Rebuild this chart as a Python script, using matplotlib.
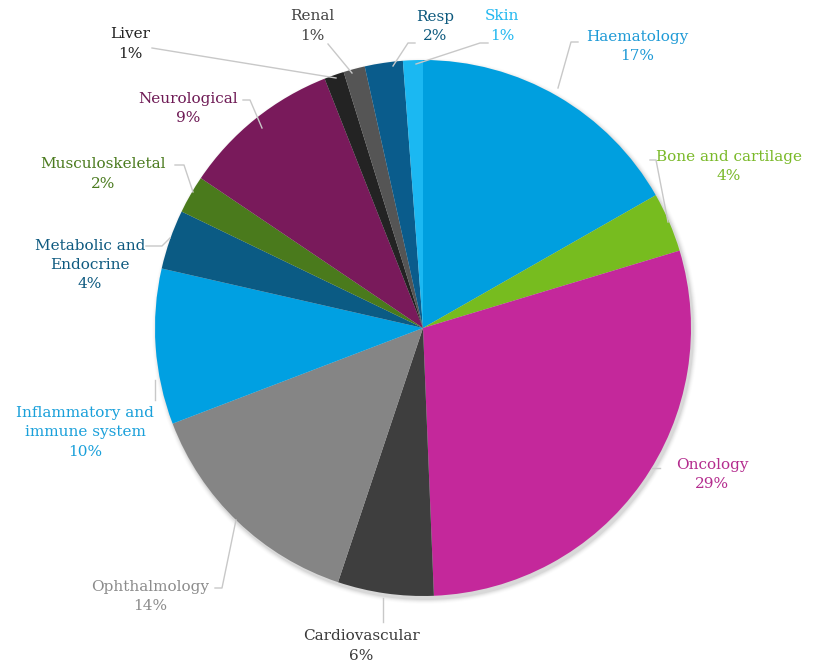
import matplotlib
matplotlib.use("Agg")
import matplotlib.pyplot as plt
import numpy as np

categories = ["Haematology", "Bone and cartilage", "Oncology", "Cardiovascular",
              "Ophthalmology", "Inflammatory and\nimmune system", "Metabolic and\nEndocrine",
              "Musculoskeletal", "Neurological", "Liver", "Renal", "Resp", "Skin"]
values = [16.8, 3.6, 29.1, 5.8, 14.1, 9.4, 3.6, 2.3, 9.6, 1.2, 1.3, 2.3, 1.2]
pct_labels = ["17%", "4%", "29%", "6%", "14%", "10%", "4%", "2%", "9%", "1%", "1%", "2%", "1%"]

colors = ["#009FDF", "#77BC1F", "#C4289B", "#3E3E3E", "#858585", "#00A0E2",
          "#0B5B84", "#4A7A1C", "#791A5B", "#232323", "#555555", "#0A5C8C", "#1BB8F2"]
label_colors = ["#1E9AD6", "#7AB929", "#B42C8E", "#3A3A3A", "#8C8C8C", "#1AA0DA",
                "#0E5A80", "#4B7B1F", "#6E1A55", "#222222", "#444444", "#0E5A7E", "#22B8F0"]

W, H = 815, 663
fig = plt.figure(figsize=(W / 100, H / 100), dpi=100)
ax2 = fig.add_axes([0, 0, 1, 1])
ax = fig.add_axes([0, 0, 1, 1])
ax.set_xlim(0, W)
ax.set_ylim(H, 0)
ax.axis("off")
ax.patch.set_alpha(0)

cx, cy, R = 423, 328, 268

# soft shadow
for i, a in enumerate(np.linspace(0.05, 0.01, 5)):
    ax2.add_patch(plt.Circle((cx + 2, H - cy - 3), R + 1 + i, color="black", alpha=a, lw=0))

ax2.pie(values, colors=colors, startangle=90, counterclock=False,
        center=(cx, H - cy), radius=R, frame=True, wedgeprops=dict(linewidth=0))
ax2.set_xlim(0, W)
ax2.set_ylim(0, H)
ax2.set_aspect("equal")
ax2.axis("off")

# label layout: center of first text line (pixel coords) and leader lines
label_pos = [(637, 35), (729, 155), (712, 463), (361, 635), (150, 585), (85, 411),
             (90, 244), (103, 163), (188, 97), (130, 33), (312, 15), (435, 15), (502, 15)]
leaders = [
    [(578, 42), (571, 42), (558, 88)],
    [(650, 160), (656, 160), (668, 222)],
    [(660, 468), (652, 468)],
    [(383, 622), (383, 598)],
    [(215, 588), (222, 588), (236, 520)],
    [(155, 400), (155, 380)],
    [(146, 246), (162, 246), (170, 238)],
    [(175, 165), (184, 165), (193, 192)],
    [(243, 100), (250, 100), (262, 128)],
    [(152, 48), (336, 78)],
    [(328, 44), (352, 73)],
    [(415, 43), (408, 43), (393, 66)],
    [(488, 43), (480, 43), (416, 64)],
]

line_h = 19.5
for i, (name, pct) in enumerate(zip(categories, pct_labels)):
    x, y = label_pos[i]
    lines = name.split("\n") + [pct]
    for k, ln in enumerate(lines):
        ax.text(x, y + k * line_h, ln, ha="center", va="center_baseline", fontsize=11,
                family="DejaVu Serif", color=label_colors[i])
    pts = np.array(leaders[i])
    ax.plot(pts[:, 0], pts[:, 1], color="#C8C8C8", lw=1.0)

fig.savefig("out.png", dpi=100, facecolor="white")
